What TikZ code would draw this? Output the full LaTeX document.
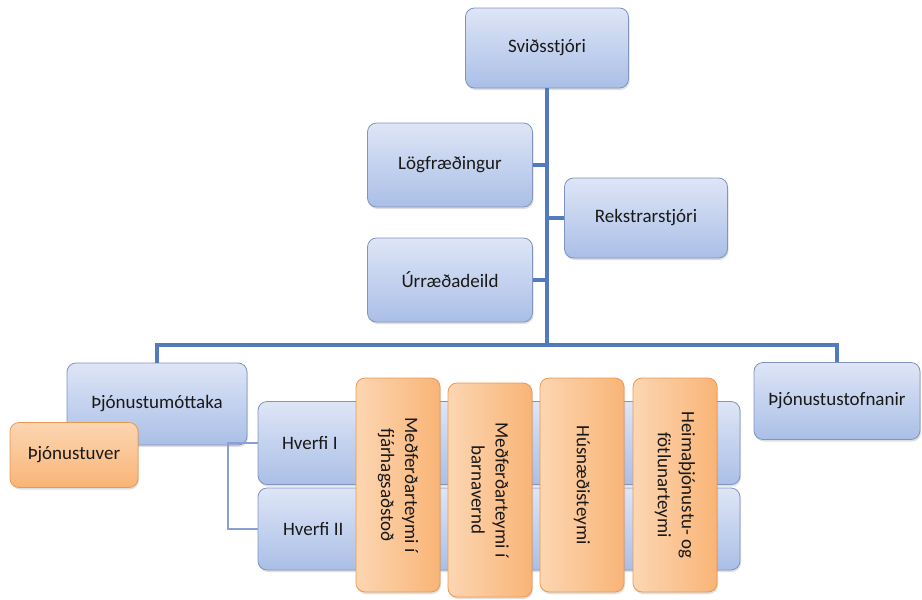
\documentclass[tikz,border=0pt]{standalone}
\usepackage{fontspec}
\setmainfont{Carlito}
\usetikzlibrary{shadows}
\definecolor{bluetop}{RGB}{222,229,246}
\definecolor{bluebot}{RGB}{170,191,231}
\definecolor{bluedge}{RGB}{128,148,192}
\definecolor{orgtop}{RGB}{252,214,178}
\definecolor{orgbot}{RGB}{249,180,118}
\definecolor{orgedge}{RGB}{236,152,80}
\definecolor{linkblue}{RGB}{84,122,190}
\definecolor{linklight}{RGB}{138,160,208}
\begin{document}
\begin{tikzpicture}[x=1pt,y=-1pt,
    every node/.style={font=\fontsize{19}{24}\selectfont,text=black!90},
    deild/.style={draw=bluedge,line width=0.8pt,rounded corners=9pt,top color=bluetop,bottom color=bluebot,
      drop shadow={opacity=0.25,shadow xshift=1pt,shadow yshift=-2pt}},
    appels/.style={draw=orgedge,line width=0.8pt,rounded corners=9pt,top color=orgtop,bottom color=orgbot,
      drop shadow={opacity=0.25,shadow xshift=1pt,shadow yshift=-2pt}},
    teymi/.style={draw=orgedge,line width=0.8pt,rounded corners=9pt,left color=orgtop,right color=orgbot,
      rotate=-90,align=center,minimum width=214pt,minimum height=84pt,
      drop shadow={opacity=0.25,shadow xshift=1pt,shadow yshift=-2pt}},
    tengi/.style={draw=linkblue,line width=3.2pt},
    undir/.style={draw=linklight,line width=2.4pt}]
  \useasboundingbox (0,0) rectangle (922,600);
  \node[deild,minimum width=163pt,minimum height=80pt] (svid) at (547,48) {Sviðsstjóri};
  \node[deild,minimum width=165pt,minimum height=84pt] (logf) at (450,165) {Lögfræðingur};
  \node[deild,minimum width=163pt,minimum height=80pt] (rekstr) at (646,218) {Rekstrarstjóri};
  \node[deild,minimum width=165pt,minimum height=84pt] (urraed) at (450,280) {Úrræðadeild};
  \node[deild,minimum width=180pt,minimum height=82pt] (mott) at (157,404) {Þjónustumóttaka};
  \node[deild,minimum width=166pt,minimum height=77pt] (stofn) at (837,401) {Þjónustustofnanir};
  \node[deild,minimum width=482pt,minimum height=83pt] (hv1) at (499,443) {};
  \node[deild,minimum width=482pt,minimum height=82pt] (hv2) at (499,529) {};
  \node[anchor=west] (hv1t) at ([xshift=21pt]hv1.west) {Hverfi I};
  \node[anchor=west] (hv2t) at ([xshift=22pt]hv2.west) {Hverfi II};
  \coordinate (bus) at (547,345);
  \coordinate (tap) at (228,445);
  \draw[tengi] (svid.south) -- (bus);
  \draw[tengi] (mott.north) |- (bus) -| (stofn.north);
  \draw[tengi] (logf.east) -- (logf.east -| bus);
  \draw[tengi] (urraed.east) -- (urraed.east -| bus);
  \draw[tengi] (rekstr.west) -- (rekstr.west -| bus);
  \draw[undir] (tap) -- (tap |- hv1.west) -- (hv1.west);
  \draw[undir] (tap) |- (hv2.west);
  \node[appels,minimum width=128pt,minimum height=65pt] (ver) at (74,455) {Þjónustuver};
  \foreach \i/\x/\y/\t in {1/398/485/{Meðferðarteymi í\\fjárhagsaðstoð},2/490/490/{Meðferðarteymi í\\barnavernd},
      3/582/485/{Húsnæðisteymi},4/675/485/{Heimaþjónustu- og\\fötlunarteymi}}
    \node[teymi] (t\i) at (\x,\y) {\t};
\end{tikzpicture}
\end{document}
